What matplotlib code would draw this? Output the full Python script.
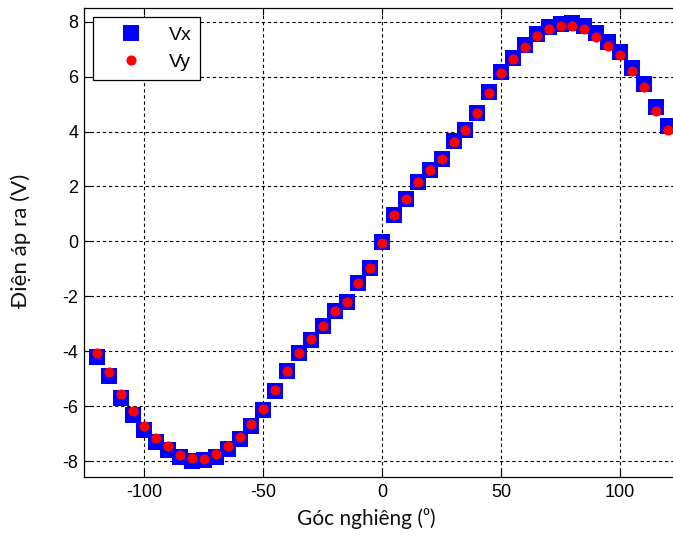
import matplotlib
matplotlib.use("Agg")
import matplotlib.pyplot as plt

# Tilt angle (degrees) and the two output voltages (V)
angle = [-120, -115, -110, -105, -100, -95, -90, -85, -80, -75, -70, -65, -60,
         -55, -50, -45, -40, -35, -30, -25, -20, -15, -10, -5, 0, 5, 10, 15,
         20, 25, 30, 35, 40, 45, 50, 55, 60, 65, 70, 75, 80, 85, 90, 95, 100,
         105, 110, 115, 120]

vx = [-4.22, -4.91, -5.71, -6.31, -6.87, -7.31, -7.61, -7.87, -8.01, -7.95,
      -7.85, -7.55, -7.18, -6.72, -6.15, -5.45, -4.73, -4.08, -3.58, -3.08,
      -2.53, -2.21, -1.53, -0.97, -0.03, 0.97, 1.53, 2.16, 2.61, 3.01, 3.64,
      4.07, 4.68, 5.43, 6.18, 6.67, 7.14, 7.55, 7.80, 7.92, 7.95, 7.85, 7.60,
      7.27, 6.90, 6.32, 5.73, 4.90, 4.22]

vy = [-4.07, -4.77, -5.56, -6.17, -6.72, -7.15, -7.47, -7.77, -7.88, -7.92,
      -7.75, -7.47, -7.11, -6.66, -6.12, -5.43, -4.71, -4.06, -3.57, -3.07,
      -2.53, -2.20, -1.53, -0.97, -0.04, 0.96, 1.53, 2.15, 2.60, 3.00, 3.63,
      4.05, 4.66, 5.40, 6.15, 6.63, 7.09, 7.49, 7.73, 7.85, 7.85, 7.73, 7.45,
      7.11, 6.78, 6.21, 5.61, 4.76, 4.05]

x_ticks = [-100, -50, 0, 50, 100]
y_ticks = [-8, -6, -4, -2, 0, 2, 4, 6, 8]

W, H = 673, 543
fig = plt.figure(figsize=(W / 100, H / 100), dpi=100)
ax_left, ax_right, ax_top, ax_bottom = 84, 673, 8.3, 476.7
ax = fig.add_axes([ax_left / W, 1 - ax_bottom / H,
                   (ax_right - ax_left) / W, (ax_bottom - ax_top) / H])

ax.plot(angle, vx, linestyle="none", marker="s", markersize=11.5,
        color="#0000ff", markeredgewidth=0, label="Vx", zorder=3)
ax.plot(angle, vy, linestyle="none", marker="o", markersize=7.3,
        color="#ff0000", markeredgewidth=0, label="Vy", zorder=4)

ax.set_xlim(-125.4, 122.3)
ax.set_ylim(-8.57, 8.49)
ax.set_xticks(x_ticks)
ax.set_yticks(y_ticks)

tick_font = {"family": ["Liberation Sans", "DejaVu Sans"], "size": 13}
ax.set_xticklabels([str(t) for t in x_ticks], fontdict=tick_font)
ax.set_yticklabels([str(t) for t in y_ticks], fontdict=tick_font)
ax.tick_params(direction="in", length=5, width=0.8, color="black",
               top=True, right=False)
ax.tick_params(axis="x", pad=5)
ax.tick_params(axis="y", pad=4)

ax.grid(True, color="black", linestyle=(0, (3, 2.5)), linewidth=0.8)
ax.set_axisbelow(True)

for side in ("left", "bottom", "top"):
    ax.spines[side].set_color("black")
    ax.spines[side].set_linewidth(0.9)
ax.spines["right"].set_visible(False)

label_font = ["Lato", "DejaVu Sans"]
ax.set_xlabel("Góc nghiêng (⁰)", family=label_font, fontsize=15,
              color="#111111")
ax.xaxis.set_label_coords((366 - ax_left) / (ax_right - ax_left),
                          -(508 - ax_bottom) / (ax_bottom - ax_top))
ax.set_ylabel("Điện áp ra (V)", family=label_font, fontsize=16,
              color="#111111", va="center", ha="center")
ax.yaxis.set_label_coords(-(84 - 21) / (ax_right - ax_left),
                          (ax_bottom - 241) / (ax_bottom - ax_top))

leg = ax.legend(loc="upper left",
                bbox_to_anchor=(9 / (ax_right - ax_left),
                                1 - 9 / (ax_bottom - ax_top)),
                borderaxespad=0, fancybox=False, framealpha=1,
                edgecolor="black", handlelength=3.0, handletextpad=0.45,
                borderpad=0.45, labelspacing=0.5,
                prop={"family": ["Liberation Sans", "DejaVu Sans"],
                      "size": 14})
leg.get_frame().set_linewidth(0.9)

fig.savefig("out.png", dpi=100)
